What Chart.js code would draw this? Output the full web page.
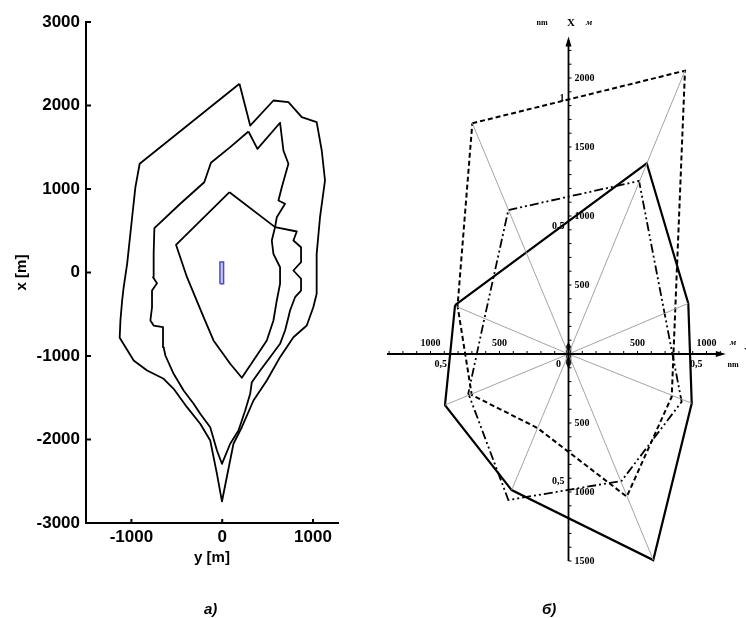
<!DOCTYPE html>
<html>
<head>
<meta charset="utf-8">
<script src="https://cdn.jsdelivr.net/npm/chart.js@4.4.1/dist/chart.umd.min.js"></script>
<style>
  body { margin: 0; background: #fff; width: 746px; height: 618px; overflow: hidden; position: relative; }
  canvas { position: absolute; top: 0; }
  #left { left: 0; }
  #right { left: 373px; }
  .cap { position: absolute; top: 600px; line-height: 16px; font: italic bold 15px "Liberation Sans", Arial, sans-serif; color: #000; }
</style>
</head>
<body>
<canvas id="left" width="373" height="618"></canvas>
<canvas id="right" width="373" height="618"></canvas>
<div class="cap" style="left:204px">а)</div>
<div class="cap" style="left:542px">б)</div>
<script>
// ---- panel a: contours, points are [y, x] in metres ----
const xTicksLeft = [-1000, 0, 1000];
const yTicksLeft = [-3000, -2000, -1000, 0, 1000, 2000, 3000];

const outerContour = [
  [190, 2260], [308, 1760], [564, 2060], [729, 2040], [876, 1860], [1040, 1800],
  [1096, 1461], [1132, 1102], [1077, 662], [1040, 224], [1040, -255], [1003, -416],
  [931, -635], [784, -775], [637, -1014], [491, -1293], [344, -1533], [216, -1853],
  [124, -2051], [-3, -2742], [-58, -2411], [-132, -2012], [-242, -1812], [-388, -1613],
  [-535, -1393], [-645, -1273], [-827, -1174], [-975, -1054], [-1129, -782], [-1121, -575],
  [-1102, -335], [-1085, -176], [-1047, 104], [-992, 662], [-956, 1022], [-909, 1302],
  [190, 2260]
];

const middleContour = [
  [289, 1689], [388, 1481], [637, 1793], [674, 1461], [729, 1302], [656, 1022],
  [619, 862], [692, 823], [601, 662], [582, 543], [821, 491], [784, 383],
  [868, 303], [868, 123], [784, 24], [868, -75], [868, -216], [802, -296],
  [747, -455], [729, -535], [692, -695], [637, -854], [527, -1014], [418, -1174],
  [326, -1314], [308, -1453], [253, -1653], [179, -1892], [88, -2051], [-3, -2291],
  [-58, -2132], [-132, -1853], [-242, -1692], [-315, -1572], [-425, -1413], [-535, -1213],
  [-626, -994], [-645, -895], [-652, -655], [-755, -635], [-791, -575], [-773, -416],
  [-773, -216], [-718, -128], [-762, -56], [-755, 224], [-747, 531], [-462, 823],
  [-198, 1081], [-124, 1314], [88, 1501], [289, 1689]
];

const innerContour = [
  [80, 962], [582, 543], [546, 383], [564, 224], [637, 63], [637, -135],
  [601, -335], [564, -575], [491, -814], [344, -1054], [216, -1261], [88, -1093],
  [-96, -814], [-205, -535], [-388, -56], [-509, 332], [80, 962]
];

const shipBox = [[-25, -135], [15, -135], [15, 125], [-25, 125], [-25, -135]];

// ---- panel b: polygons, points are [east, north] in metres ----
const solidPolygon = [
  [-822, 355], [567, 1382], [868, 367], [893, -357], [614, -1493], [-412, -986], [-895, -370], [-822, 355]
];
const dashedPolygon = [
  [-697, 1672], [844, 2053], [748, -309], [422, -1034], [-225, -536], [-701, -297], [-804, 348], [-697, 1672]
];
const dashDotPolygon = [
  [-436, 1043], [511, 1254], [697, 290], [820, -346], [384, -920], [-436, -1058], [-726, -285], [-610, 254], [-436, 1043]
];
const rayEnds = [
  [844, 2053], [868, 367], [893, -357], [614, -1493], [-412, -986], [-895, -370], [-810, 343], [-697, 1672]
];
const originMark = [[0, 80], [14, 55], [17, 0], [14, -70], [0, -100], [-14, -70], [-17, 0], [-14, 55], [0, 80]];

const northMetreLabels = [2000, 1500, 1000, 500, -500, -1000, -1500];
const northNmLabels = [[1852, '1'], [926, '0,5'], [-926, '0,5']];
const eastMetreLabels = [-1000, -500, 500, 1000];
const eastNmLabels = [[-926, '0,5'], [926, '0,5']];

const pts = arr => arr.map(p => ({ x: p[0], y: p[1] }));

// ---- panel a chart ----
const sansBold = size => ({ family: '"Liberation Sans", Arial, sans-serif', size: size, weight: 'bold' });

const contour = arr => ({
  data: pts(arr), showLine: true, borderColor: '#000', borderWidth: 1.8,
  pointRadius: 0, fill: false, borderJoinStyle: 'round'
});

const insideTicks = {
  id: 'insideTicks',
  afterDraw(chart) {
    const { ctx, chartArea: a, scales: { x, y } } = chart;
    ctx.save();
    ctx.strokeStyle = '#000';
    ctx.lineWidth = 2;
    ctx.beginPath();
    xTicksLeft.forEach(v => {
      const px = x.getPixelForValue(v);
      ctx.moveTo(px, a.bottom); ctx.lineTo(px, a.bottom - 4);
    });
    yTicksLeft.forEach(v => {
      const py = y.getPixelForValue(v);
      ctx.moveTo(a.left, py); ctx.lineTo(a.left + 5, py);
    });
    ctx.stroke();
    ctx.restore();
  }
};

new Chart(document.getElementById('left'), {
  type: 'scatter',
  data: {
    datasets: [
      contour(outerContour),
      contour(middleContour),
      contour(innerContour),
      { data: pts(shipBox), showLine: true, borderColor: '#4a4ac4', borderWidth: 1.5,
        backgroundColor: '#cacaf2', fill: 'shape', pointRadius: 0 }
    ]
  },
  options: {
    responsive: false,
    animation: false,
    layout: { autoPadding: false, padding: { left: 0, top: 22, right: 35, bottom: 0 } },
    plugins: { legend: { display: false }, tooltip: { enabled: false } },
    scales: {
      x: {
        type: 'linear', min: -1500, max: 1275,
        grid: { display: false, drawTicks: false },
        border: { display: true, color: '#000', width: 2 },
        afterBuildTicks: s => { s.ticks = xTicksLeft.map(v => ({ value: v })); },
        afterFit: s => { s.height = 95; },
        ticks: { color: '#000', font: sansBold(17), padding: 4, callback: v => String(v) },
        title: { display: true, text: 'y [m]', color: '#000', font: sansBold(15), padding: { top: 0, bottom: 51 } }
      },
      y: {
        type: 'linear', min: -3000, max: 3000,
        grid: { display: false, drawTicks: false },
        border: { display: true, color: '#000', width: 2 },
        afterBuildTicks: s => { s.ticks = yTicksLeft.map(v => ({ value: v })); },
        afterFit: s => { s.width = 86; },
        ticks: { color: '#000', font: sansBold(17), padding: 6, callback: v => String(v) },
        title: { display: true, text: 'x [m]', color: '#000', font: sansBold(15), padding: { top: 12.7, bottom: 0 } }
      }
    }
  },
  plugins: [insideTicks]
});

// ---- panel b chart ----
const serif = (size, style) => (style || 'bold') + ' ' + size + 'px "Liberation Serif", "Times New Roman", serif';

const crossAxes = {
  id: 'crossAxes',
  afterDatasetsDraw(chart) {
    const { ctx, scales: { x, y } } = chart;
    const ox = x.getPixelForValue(0);
    const oy = y.getPixelForValue(0);
    const top = y.getPixelForValue(2300);
    const bottom = y.getPixelForValue(-1500);
    const leftEnd = x.getPixelForValue(-1315);
    const rightEnd = x.getPixelForValue(1140);
    ctx.save();
    ctx.strokeStyle = '#000';
    ctx.fillStyle = '#000';
    ctx.lineWidth = 1.8;
    ctx.beginPath();
    ctx.moveTo(ox, bottom); ctx.lineTo(ox, top + 4);
    ctx.moveTo(leftEnd, oy); ctx.lineTo(rightEnd - 4, oy);
    ctx.stroke();
    // arrow heads
    ctx.beginPath();
    ctx.moveTo(ox, top); ctx.lineTo(ox - 3, top + 10); ctx.lineTo(ox + 3, top + 10); ctx.closePath();
    ctx.moveTo(rightEnd, oy); ctx.lineTo(rightEnd - 10, oy - 3); ctx.lineTo(rightEnd - 10, oy + 3); ctx.closePath();
    ctx.fill();
    // minor ticks every 100 m
    ctx.lineWidth = 1;
    ctx.beginPath();
    for (let v = -1500; v <= 2200; v += 100) {
      const py = y.getPixelForValue(v);
      ctx.moveTo(ox, py); ctx.lineTo(ox + 3, py);
    }
    for (let v = -1300; v <= 1100; v += 100) {
      const px = x.getPixelForValue(v);
      ctx.moveTo(px, oy); ctx.lineTo(px, oy - 3);
    }
    ctx.stroke();
    // labels
    ctx.font = serif(10);
    ctx.textBaseline = 'middle';
    ctx.textAlign = 'left';
    northMetreLabels.forEach(v => ctx.fillText(String(Math.abs(v)), ox + 6, y.getPixelForValue(v)));
    ctx.textAlign = 'right';
    northNmLabels.forEach(([v, t]) => ctx.fillText(t, ox - 4, y.getPixelForValue(v)));
    ctx.textAlign = 'center';
    eastMetreLabels.forEach(v => ctx.fillText(String(Math.abs(v)), x.getPixelForValue(v), oy - 11));
    eastNmLabels.forEach(([v, t]) => ctx.fillText(t, x.getPixelForValue(v), oy + 10));
    ctx.fillText('0', ox - 10, oy + 10);
    // units
    ctx.font = serif(8);
    ctx.fillText('nm', 169, 23);
    ctx.fillText('nm', 360, 365);
    ctx.font = serif(11);
    ctx.fillText('X', 198, 23);
    ctx.fillText('Y', 375, 352);
    ctx.font = serif(9, 'italic bold');
    ctx.fillText('м', 216, 23);
    ctx.fillText('м', 360, 343);
    ctx.restore();
  }
};

const rayDatasets = rayEnds.map(e => ({
  data: [{ x: 0, y: 0 }, { x: e[0], y: e[1] }], showLine: true,
  borderColor: '#a3a3a3', borderWidth: 1, pointRadius: 0
}));

new Chart(document.getElementById('right'), {
  type: 'scatter',
  data: {
    datasets: rayDatasets.concat([
      { data: pts(solidPolygon), showLine: true, borderColor: '#000', borderWidth: 2.2, pointRadius: 0 },
      { data: pts(dashedPolygon), showLine: true, borderColor: '#000', borderWidth: 2, borderDash: [5, 3], pointRadius: 0 },
      { data: pts(dashDotPolygon), showLine: true, borderColor: '#000', borderWidth: 1.8, borderDash: [9, 3, 2, 3, 2, 3], pointRadius: 0 },
      { data: pts(originMark), showLine: true, borderColor: '#222', borderWidth: 1, backgroundColor: '#222', fill: 'shape', pointRadius: 0 }
    ])
  },
  options: {
    responsive: false,
    animation: false,
    layout: { autoPadding: false, padding: 0 },
    plugins: { legend: { display: false }, tooltip: { enabled: false } },
    scales: {
      x: { type: 'linear', display: false, min: -1416.7, max: 1286.2 },
      y: { type: 'linear', display: false, min: -1913, max: 2565.2 }
    }
  },
  plugins: [crossAxes]
});
</script>
</body>
</html>
